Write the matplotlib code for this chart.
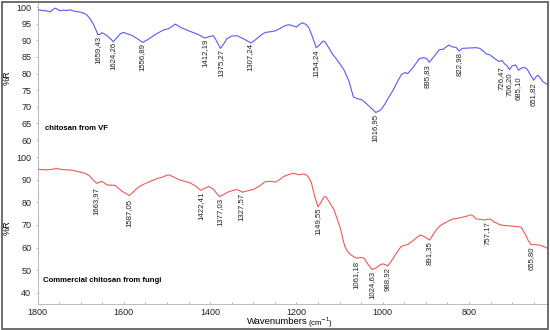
import matplotlib
matplotlib.use("Agg")
import matplotlib.pyplot as plt
from matplotlib.patches import Rectangle

plt.rcParams['font.family'] = ['Liberation Sans', 'DejaVu Sans']

# chitosan from VF (top, blue)
vf_x = [1800, 1790, 1780, 1771, 1765, 1759, 1753, 1748, 1740, 1730, 1725, 1715, 1701, 1693,
        1686, 1678, 1670, 1664, 1660, 1655, 1651, 1645, 1639, 1632, 1624, 1615, 1608, 1601,
        1592, 1581, 1570, 1556, 1545, 1531, 1520, 1508, 1495, 1487, 1481, 1473, 1465, 1450,
        1438, 1425, 1412, 1400, 1392, 1385, 1376, 1368, 1361, 1350, 1337, 1320, 1305, 1292,
        1280, 1272, 1260, 1248, 1235, 1225, 1217, 1208, 1200, 1193, 1186, 1178, 1171, 1164,
        1154, 1146, 1138, 1134, 1125, 1117, 1105, 1090, 1078, 1068, 1060, 1050, 1043, 1030,
        1016, 1005, 995, 989, 975, 965, 956, 948, 942, 930, 915, 905, 898, 892, 885, 877,
        869, 860, 852, 847, 838, 830, 823, 815, 800, 784, 775, 765, 760, 752, 745, 737,
        730, 724, 718, 712, 706, 700, 692, 685, 679, 672, 665, 658, 650, 645, 640, 634,
        629, 622, 617]
vf_y = [99.3, 99.0, 98.9, 98.6, 99.2, 99.7, 99.3, 98.9, 99.1, 99.0, 99.2, 98.8, 98.5, 98.2,
        97.7, 96.5, 94.7, 93.0, 91.7, 91.8, 92.3, 91.9, 91.4, 90.6, 89.6, 91.0, 92.0, 92.4,
        92.0, 91.5, 90.6, 89.4, 90.2, 91.4, 92.3, 93.1, 93.6, 94.3, 94.9, 94.3, 93.7, 92.9,
        92.3, 91.6, 90.7, 91.2, 91.4, 89.8, 87.6, 89.0, 90.5, 91.3, 91.4, 90.3, 89.2, 90.5,
        91.8, 92.4, 92.6, 92.9, 93.8, 94.5, 94.7, 94.4, 94.0, 94.8, 95.3, 94.8, 93.8, 91.5,
        87.8, 88.7, 89.8, 89.6, 87.8, 86.0, 84.0, 81.2, 77.7, 73.0, 72.5, 72.2, 71.6, 70.0,
        68.3, 69.0, 70.8, 72.2, 75.2, 77.8, 79.8, 80.3, 80.0, 81.8, 84.5, 84.8, 84.5, 83.4,
        84.5, 85.8, 87.2, 87.3, 88.1, 88.6, 88.0, 87.9, 86.8, 87.6, 87.7, 87.8, 87.6, 86.6,
        85.9, 85.7, 85.0, 84.2, 83.6, 84.0, 83.0, 82.4, 81.2, 82.3, 82.6, 81.0, 81.6, 81.9,
        81.3, 79.7, 78.0, 79.0, 79.5, 78.6, 77.6, 77.0, 76.7]

vf_peaks = [1659.43, 1624.26, 1556.89, 1412.19, 1375.27, 1307.24, 1154.24, 1016.95,
            895.83, 822.98, 726.47, 706.20, 685.10, 651.82]
vf_peak_y = [91.4, 89.4, 89.1, 90.4, 87.4, 89.1, 87.4, 67.8, 82.9, 86.6, 82.2, 80.3, 79.2, 77.4]

# Commercial chitosan from fungi (bottom, red)
cf_x = [1800, 1790, 1779, 1768, 1755, 1745, 1736, 1721, 1705, 1690, 1680, 1674, 1668, 1663,
        1657, 1651, 1645, 1639, 1630, 1620, 1612, 1604, 1595, 1587, 1578, 1566, 1556, 1546,
        1535, 1523, 1510, 1500, 1496, 1485, 1473, 1460, 1446, 1432, 1422, 1412, 1403, 1392,
        1385, 1378, 1370, 1357, 1345, 1337, 1330, 1325, 1315, 1299, 1285, 1272, 1262, 1248,
        1238, 1229, 1218, 1206, 1194, 1185, 1179, 1172, 1165, 1158, 1150, 1143, 1137, 1132,
        1125, 1113, 1105, 1097, 1090, 1086, 1080, 1074, 1066, 1060, 1052, 1043, 1035, 1025,
        1015, 1006, 1000, 993, 988, 980, 970, 958, 950, 942, 930, 920, 912, 905, 897, 891,
        884, 875, 866, 855, 845, 838, 828, 815, 805, 795, 789, 784, 775, 764, 757, 750,
        742, 735, 730, 720, 707, 695, 685, 679, 673, 668, 662, 656, 648, 637, 628, 617]
cf_y = [94.7, 94.5, 94.4, 94.6, 95.0, 94.6, 94.4, 94.3, 93.6, 92.9, 91.8, 90.5, 89.3, 88.4,
        88.9, 89.3, 88.6, 87.7, 87.6, 87.5, 86.2, 84.9, 83.9, 83.0, 84.6, 86.8, 87.8, 88.7,
        89.6, 90.5, 91.2, 92.0, 92.2, 91.3, 90.1, 89.4, 88.6, 87.0, 85.3, 86.3, 87.0, 85.8,
        84.0, 82.6, 83.3, 84.7, 85.4, 85.7, 85.0, 84.5, 85.0, 85.8, 87.3, 89.2, 89.3, 89.0,
        90.2, 91.5, 92.3, 92.9, 92.2, 92.5, 92.4, 91.3, 88.5, 83.0, 78.0, 80.0, 82.3, 82.6,
        80.6, 76.8, 72.5, 67.8, 62.0, 59.7, 58.0, 56.8, 55.8, 55.3, 55.6, 55.3, 52.8, 50.3,
        51.0, 52.3, 52.8, 52.3, 51.8, 54.0, 57.0, 60.3, 61.0, 61.3, 63.0, 64.6, 65.5, 65.0,
        64.0, 63.3, 65.5, 68.0, 69.8, 71.0, 72.0, 72.6, 72.9, 73.4, 73.9, 74.5, 73.8, 72.7,
        72.5, 72.2, 72.5, 72.6, 71.3, 70.8, 70.2, 69.8, 69.6, 69.4, 69.2, 68.9, 67.0, 65.4,
        62.8, 61.3, 61.3, 61.1, 60.5, 59.6]

cf_peaks = [1663.97, 1587.05, 1422.41, 1377.03, 1327.57, 1149.55, 1061.18, 1024.63,
            988.92, 891.35, 757.17, 655.80]
cf_peak_y = [86.6, 81.6, 84.9, 82.0, 84.4, 77.6, 54.0, 49.6, 51.4, 62.8, 71.6, 60.6]

fig = plt.figure(figsize=(5.5, 3.3), dpi=100)
left, width = 37.5 / 550, 510 / 550
ax1 = fig.add_axes([left, 1 - 152 / 330, width, 149.5 / 330])
ax2 = fig.add_axes([left, 1 - 304 / 330, width, 152 / 330])

blue = '#5a5af2'
red = '#f25858'

ax1.plot(vf_x, vf_y, color=blue, lw=0.8)
ax2.plot(cf_x, cf_y, color=red, lw=0.8)

for ax, px, py in [(ax1, vf_peaks, vf_peak_y), (ax2, cf_peaks, cf_peak_y)]:
    for w, yv in zip(px, py):
        ax.text(w, yv, f"{w:.2f}".replace('.', ','), rotation=90, ha='center', va='top',
                fontsize=5.6, color='#222222')

ax1.set_ylim(56.4, 101.4)
ax1.set_yticks(range(60, 101, 5))
ax2.set_ylim(35, 102.3)
ax2.set_yticks(range(40, 101, 10))

for ax in (ax1, ax2):
    ax.set_xlim(1800, 618)
    ax.set_xticks(range(1800, 700, -200))
    ax.set_xticks(range(1800, 618, -50), minor=True)
    for s in ('top', 'right'):
        ax.spines[s].set_visible(False)
    ax.spines['left'].set_color('#aaaaaa')
    ax.spines['left'].set_linestyle((0, (1, 1.5)))
    ax.spines['left'].set_linewidth(0.7)
    ax.tick_params(axis='y', labelsize=6.5, length=1.5, width=0.5, color='#aaaaaa',
                   labelcolor='#222222', pad=3)
    ax.set_ylabel('%R', fontsize=6.5)
    ax.yaxis.set_label_coords(-0.05, 0.5)

ax1.spines['bottom'].set_color('#e6e6e6')
ax1.spines['bottom'].set_linewidth(0.8)
ax1.tick_params(axis='x', which='both', bottom=False, labelbottom=False)

ax2.spines['bottom'].set_color('#bbbbbb')
ax2.spines['bottom'].set_linewidth(0.7)
ax2.tick_params(axis='x', which='both', direction='in', length=1.5, width=0.5,
                color='#999999', labelsize=6.5, labelcolor='#222222', pad=3)

ax1.text(0.014, 0.155, 'chitosan from VF', transform=ax1.transAxes, fontsize=5.6,
         fontweight='bold', va='center')
ax2.text(0.01, 0.155, 'Commercial chitosan from fungi', transform=ax2.transAxes,
         fontsize=5.6, fontweight='bold', va='center')

fig.text(247 / 550, 1 - 322 / 330, 'Wavenumbers', fontsize=6.8, va='center', ha='left')
fig.text(308 / 550, 1 - 323 / 330, '(cm$^{-1}$)', fontsize=5.5, va='center', ha='left')

fig.patches.append(Rectangle((1.5 / 550, 1.5 / 330), 546.5 / 550, 326.5 / 330,
                             transform=fig.transFigure, fill=False, edgecolor='#555555',
                             linewidth=1.2))

fig.savefig('out.png', dpi=100)
